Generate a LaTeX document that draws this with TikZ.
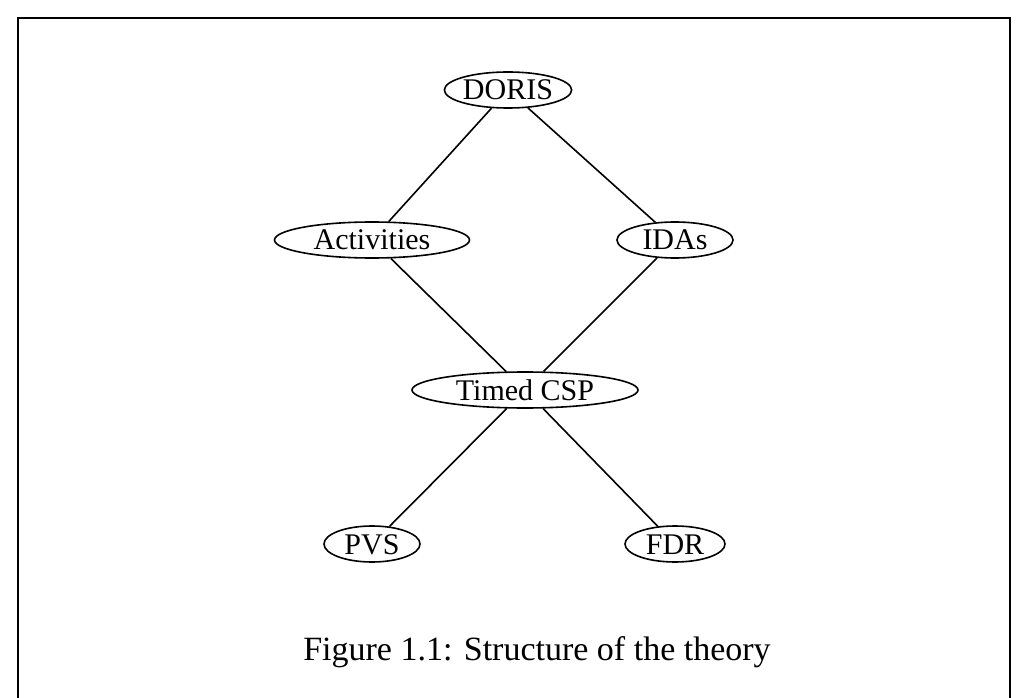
\documentclass[tikz,border=0pt]{standalone}
\usepackage{fontspec}
\setmainfont{Liberation Serif}
\usetikzlibrary{shapes.geometric}
\begin{document}
\begin{tikzpicture}[x=1pt,y=-1pt,
  topic/.style={draw,ellipse,line width=1.6pt,inner sep=0pt,
    text height=20pt,text depth=0pt,minimum height=36pt,
    font=\fontsize{30}{34}\selectfont},
  link/.style={line width=1.6pt}]
  \useasboundingbox (0,0) rectangle (1029,698);
  % page frame, open at the bottom
  \draw[line width=2.4pt] (18,698) -- (18,18) -- (1010,18) -- (1010,698);
  % theory layers
  \node[topic,minimum width=117pt] (doris) at (508,90) {DORIS};
  \node[topic,minimum width=195pt] (act) at (372,240) {Activities};
  \node[topic,minimum width=116pt] (ida) at (675,240) {IDAs};
  \node[topic,minimum width=226pt] (tcsp) at (525,390) {Timed CSP};
  \node[topic,minimum width=96pt] (pvs) at (372,544) {PVS};
  \node[topic,minimum width=100pt] (fdr) at (675,544) {FDR};
  \draw[link] (doris) -- (act);
  \draw[link] (doris) -- (ida);
  \draw[link] (act) -- (tcsp);
  \draw[link] (ida) -- (tcsp);
  \draw[link] (tcsp) -- (pvs);
  \draw[link] (tcsp) -- (fdr);
  \node[font=\fontsize{34}{38}\selectfont] (cap) at (537,652) {Figure 1.1: Structure of the theory};
\end{tikzpicture}
\end{document}
